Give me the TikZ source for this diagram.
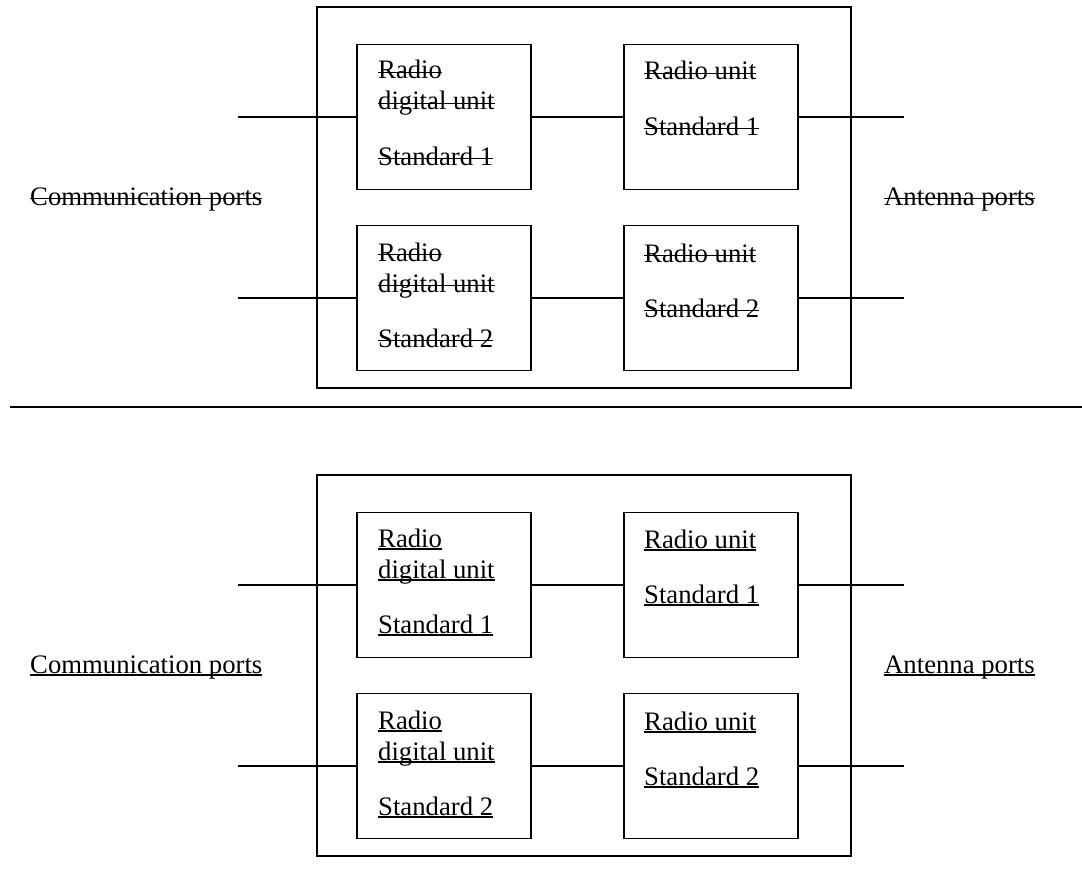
\documentclass[tikz,border=0pt]{standalone}
\usepackage{fontspec}
\setmainfont{Liberation Serif}
\newsavebox{\mylinebox}
\newcommand{\myul}[1]{\sbox{\mylinebox}{#1}\rlap{\usebox{\mylinebox}}\rule[-2.6pt]{\wd\mylinebox}{1.3pt}}
\newcommand{\myso}[1]{\sbox{\mylinebox}{#1}\rlap{\usebox{\mylinebox}}\rule[6.2pt]{\wd\mylinebox}{1.3pt}}
\begin{document}
\begin{tikzpicture}[x=1pt,y=-1pt,
  unitbox/.style={draw,line width=1.3pt,minimum width=174pt,minimum height=145pt,inner sep=0pt},
  outerbox/.style={draw,line width=1.3pt,minimum width=534pt,minimum height=381pt,inner sep=0pt},
  wire/.style={line width=1.3pt},
  lbl/.style={anchor=base west,inner sep=0pt,font=\fontsize{26.7}{31}\selectfont}]
\useasboundingbox (0,0) rectangle (1082,883);
\fill[white] (0,0) rectangle (1082,883);
\foreach \dy/\mk/\s in {0/\myso/a, 468/\myul/b} {
  \node[outerbox] (outer\s) at (584,197.5+\dy) {};
  \node[unitbox] (rdu1\s) at (444,117+\dy) {};
  \node[unitbox] (rdu2\s) at (444,298+\dy) {};
  \node[unitbox] (ru1\s) at (711,117+\dy) {};
  \node[unitbox] (ru2\s) at (711,298+\dy) {};
  \coordinate (cin1\s) at (238,117+\dy);
  \coordinate (cin2\s) at (238,298+\dy);
  \coordinate (aout1\s) at (904,117+\dy);
  \coordinate (aout2\s) at (904,298+\dy);
  \draw[wire] (cin1\s) -- (rdu1\s.west);
  \draw[wire] (cin2\s) -- (rdu2\s.west);
  \draw[wire] (rdu1\s.east) -- (ru1\s.west);
  \draw[wire] (rdu2\s.east) -- (ru2\s.west);
  \draw[wire] (ru1\s.east) -- (aout1\s);
  \draw[wire] (ru2\s.east) -- (aout2\s);
  \node[lbl] (t1a\s) at (378,79+\dy) {\mk{Radio}};
  \node[lbl] (t1b\s) at (378,110+\dy) {\mk{digital unit}};
  \node[lbl] (t1c\s) at (378,165+\dy) {\mk{Standard 1}};
  \node[lbl] (t2a\s) at (378,261+\dy) {\mk{Radio}};
  \node[lbl] (t2b\s) at (378,292+\dy) {\mk{digital unit}};
  \node[lbl] (t2c\s) at (378,347+\dy) {\mk{Standard 2}};
  \node[lbl] (u1a\s) at (644,80+\dy) {\mk{Radio unit}};
  \node[lbl] (u1b\s) at (644,135+\dy) {\mk{Standard 1}};
  \node[lbl] (u2a\s) at (644,262+\dy) {\mk{Radio unit}};
  \node[lbl] (u2b\s) at (644,317+\dy) {\mk{Standard 2}};
  \node[lbl] (comm\s) at (30,205+\dy) {\mk{Communication ports}};
  \node[lbl] (ant\s) at (884,205+\dy) {\mk{Antenna ports}};
}
\coordinate (divl) at (10,407);
\coordinate (divr) at (1082,407);
\draw[line width=1.5pt] (divl) -- (divr);
\end{tikzpicture}
\end{document}
